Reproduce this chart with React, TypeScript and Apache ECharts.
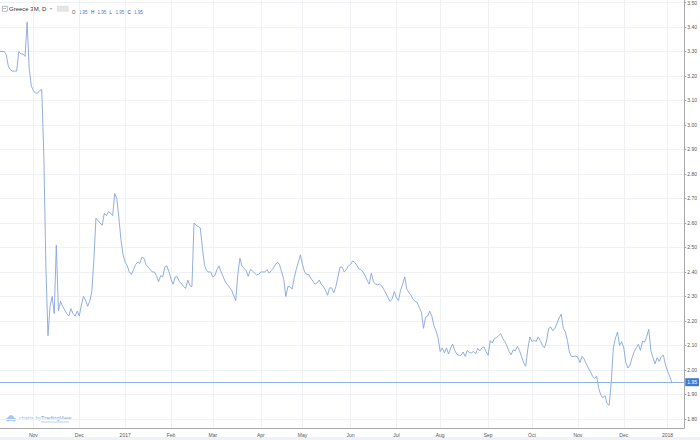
import React, { useEffect, useRef } from "react";
import * as echarts from "echarts";

// Trading days (weekdays) starting 2016-10-10
const START = { y: 2016, m: 9, d: 10 };
const DAY_COUNT = 329;

const monthNames = ["Jan", "Feb", "Mar", "Apr", "May", "Jun", "Jul", "Aug", "Sep", "Oct", "Nov", "Dec"];

// Greece 3M yield, daily closes
const yieldValues = [
  3.30, 3.30, 3.30, 3.286, 3.24, 3.225, 3.22, 3.22, 3.22, 3.30,
  3.29, 3.29, 3.28, 3.42, 3.23, 3.16, 3.14, 3.13, 3.13, 3.14,
  3.145, 2.88, 2.42, 2.14, 2.26, 2.30, 2.23, 2.51, 2.24, 2.28,
  2.26, 2.245, 2.23, 2.22, 2.25, 2.23, 2.22, 2.24, 2.22, 2.265,
  2.30, 2.285, 2.26, 2.28, 2.32, 2.45, 2.62, 2.61, 2.60, 2.59,
  2.64, 2.63, 2.646, 2.64, 2.63, 2.72, 2.70, 2.62, 2.53, 2.47,
  2.44, 2.425, 2.40, 2.39, 2.41, 2.43, 2.44, 2.435, 2.46, 2.456,
  2.43, 2.42, 2.41, 2.40, 2.40, 2.385, 2.36, 2.385, 2.38, 2.42,
  2.425, 2.40, 2.37, 2.35, 2.38, 2.38, 2.36, 2.353, 2.34, 2.333,
  2.367, 2.345, 2.34, 2.60, 2.59, 2.585, 2.58, 2.50, 2.43, 2.405,
  2.40, 2.40, 2.38, 2.385, 2.41, 2.425, 2.40, 2.38, 2.36, 2.348,
  2.338, 2.325, 2.305, 2.283, 2.39, 2.456, 2.425, 2.415, 2.405, 2.382,
  2.41, 2.405, 2.395, 2.388, 2.39, 2.40, 2.40, 2.40, 2.41, 2.395,
  2.405, 2.415, 2.43, 2.44, 2.43, 2.40, 2.37, 2.30, 2.34, 2.34,
  2.33, 2.375, 2.41, 2.44, 2.47, 2.43, 2.40, 2.39, 2.39, 2.374,
  2.362, 2.35, 2.355, 2.367, 2.35, 2.34, 2.325, 2.305, 2.335, 2.335,
  2.315, 2.34, 2.38, 2.42, 2.42, 2.40, 2.41, 2.425, 2.43, 2.445,
  2.44, 2.428, 2.412, 2.41, 2.40, 2.385, 2.365, 2.35, 2.395, 2.36,
  2.35, 2.348, 2.35, 2.343, 2.328, 2.313, 2.295, 2.28, 2.29, 2.32,
  2.295, 2.283, 2.325, 2.35, 2.38, 2.33, 2.316, 2.305, 2.288, 2.28,
  2.275, 2.255, 2.235, 2.17, 2.215, 2.22, 2.24, 2.22, 2.18, 2.16,
  2.13, 2.075, 2.09, 2.07, 2.09, 2.065, 2.089, 2.105, 2.08, 2.063,
  2.06, 2.06, 2.073, 2.055, 2.08, 2.07, 2.07, 2.075, 2.066, 2.088,
  2.078, 2.09, 2.094, 2.075, 2.06, 2.12, 2.11, 2.128, 2.132, 2.14,
  2.148, 2.128, 2.116, 2.098, 2.076, 2.062, 2.082, 2.078, 2.096, 2.079,
  2.055, 2.03, 2.015, 2.085, 2.135, 2.116, 2.12, 2.117, 2.135, 2.12,
  2.10, 2.09, 2.118, 2.17, 2.175, 2.16, 2.17, 2.19, 2.212, 2.228,
  2.17, 2.155, 2.12, 2.07, 2.054, 2.055, 2.056, 2.052, 2.03, 2.055,
  2.045, 2.025, 2.008, 1.993, 1.975, 1.965, 1.975, 1.925, 1.898, 1.886,
  1.895, 1.862, 1.856, 1.95, 2.09, 2.13, 2.155, 2.10, 2.115, 2.09,
  2.03, 2.008, 2.02, 2.05, 2.075, 2.09, 2.105, 2.08, 2.118, 2.113,
  2.136, 2.166, 2.078, 2.05, 2.025, 2.05, 2.035, 2.055, 2.06, 2.02,
  1.995, 1.975, 1.95,
];

const yTickValues = [1.8, 1.9, 2.0, 2.1, 2.2, 2.3, 2.4, 2.5, 2.6, 2.7, 2.8, 2.9, 3.0, 3.1, 3.2, 3.3, 3.4, 3.5];
const LAST_PRICE = 1.95;
const Y_MIN = 1.763;
const Y_MAX = 3.51;

function buildCalendar() {
  const dates: string[] = [];
  const labels: Record<number, string> = {};
  const d = new Date(Date.UTC(START.y, START.m, START.d));
  let prevMonth = -1;
  while (dates.length < DAY_COUNT) {
    const wd = d.getUTCDay();
    if (wd !== 0 && wd !== 6) {
      const m = d.getUTCMonth();
      const idx = dates.length;
      if (prevMonth !== -1 && m !== prevMonth) {
        labels[idx] = m === 0 ? String(d.getUTCFullYear()) : monthNames[m];
      }
      prevMonth = m;
      const s = d.getUTCFullYear() + "-" + String(m + 1).padStart(2, "0") + "-" + String(d.getUTCDate()).padStart(2, "0");
      dates.push(s);
    }
    d.setUTCDate(d.getUTCDate() + 1);
  }
  return { dates, labels };
}

export default function App() {
  const ref = useRef<HTMLDivElement>(null);

  useEffect(() => {
    if (!ref.current) return;
    const chart = echarts.init(ref.current, undefined, { renderer: "svg" });
    const { dates, labels } = buildCalendar();
    const isLabel = (i: number) => labels[i] !== undefined;
    const font = "Arial, 'Liberation Sans', sans-serif";

    chart.setOption({
      animation: false,
      backgroundColor: "#ffffff",
      grid: { left: 0, right: 14, top: 0, bottom: 12, containLabel: false },
      xAxis: {
        type: "category",
        data: dates,
        boundaryGap: false,
        axisLine: { show: true, lineStyle: { color: "#a8a8a8", width: 1 } },
        axisTick: { show: false },
        axisLabel: {
          interval: (i: number) => isLabel(i),
          formatter: (_v: string, i: number) => labels[i] || "",
          fontSize: 5,
          color: "#555",
          margin: 4,
          fontFamily: font,
        },
        splitLine: {
          show: true,
          interval: (i: number) => isLabel(i),
          lineStyle: { color: "#eff1f4", width: 1 },
        },
      },
      yAxis: {
        type: "value",
        position: "right",
        min: Y_MIN,
        max: Y_MAX,
        axisLine: { show: true, lineStyle: { color: "#a8a8a8", width: 1 } },
        axisTick: { show: true, length: 2, customValues: yTickValues, lineStyle: { color: "#a8a8a8" } },
        axisLabel: {
          customValues: yTickValues,
          formatter: (v: number) => v.toFixed(2),
          fontSize: 5,
          color: "#555",
          margin: 3,
          fontFamily: font,
        },
        splitLine: { show: true, lineStyle: { color: "#eff1f4", width: 1 } },
      },
      series: [
        {
          type: "line",
          data: yieldValues,
          showSymbol: false,
          symbol: "none",
          lineStyle: { color: "#86a5dc", width: 0.9 },
          markLine: {
            silent: true,
            symbol: "none",
            lineStyle: { color: "#8db3e8", width: 1, type: "solid" },
            label: {
              show: true,
              position: "end",
              distance: 1,
              formatter: LAST_PRICE.toFixed(2),
              backgroundColor: "#3d7bd8",
              color: "#ffffff",
              fontSize: 5,
              padding: [2, 2, 1, 2],
              fontFamily: font,
            },
            data: [{ yAxis: LAST_PRICE }],
          },
        },
      ],
      graphic: [
        { type: "rect", left: 0, top: 437, shape: { width: 700, height: 3 }, style: { fill: "#eef1f6" } },
        { type: "rect", left: 2, top: 6, shape: { width: 5, height: 5 }, style: { fill: "#fff", stroke: "#888", lineWidth: 0.6 } },
        { type: "line", shape: { x1: 3, y1: 8.5, x2: 6, y2: 8.5 }, style: { stroke: "#888", lineWidth: 0.6 } },
        {
          type: "text",
          left: 9,
          top: 5.5,
          style: { text: "Greece 3M, D", fontSize: 6, fill: "#333", fontFamily: font },
        },
        { type: "text", left: 50, top: 6, style: { text: "▾", fontSize: 4, fill: "#999", fontFamily: font } },
        { type: "rect", left: 57, top: 6, shape: { width: 5, height: 5 }, style: { fill: "#e6e6e6", stroke: "#d0d0d0", lineWidth: 0.5 } },
        { type: "rect", left: 63, top: 6, shape: { width: 5, height: 5 }, style: { fill: "#e6e6e6", stroke: "#d0d0d0", lineWidth: 0.5 } },
        {
          type: "text",
          left: 72,
          top: 6.5,
          style: {
            text: "{k|O} {v|1.95} {k|H} {v|1.95} {k|L} {v|1.95} {k|C} {v|1.95}",
            fontFamily: font,
            rich: {
              k: { fontSize: 4.5, fill: "#444", fontFamily: font },
              v: { fontSize: 4.5, fill: "#3d7bd8", fontFamily: font },
            },
          },
        },
        { type: "circle", shape: { cx: 11, cy: 418, r: 3 }, style: { fill: "#a9c8ea" } },
        { type: "circle", shape: { cx: 8, cy: 419.5, r: 2 }, style: { fill: "#a9c8ea" } },
        { type: "circle", shape: { cx: 14, cy: 419.5, r: 2 }, style: { fill: "#a9c8ea" } },
        {
          type: "text",
          left: 19,
          top: 415,
          style: { text: "charts by", fontSize: 5.5, fill: "#9cc0e6", fontFamily: font },
        },
        {
          type: "text",
          left: 41,
          top: 415,
          style: { text: "TradingView", fontSize: 5.5, fill: "#6ea3dc", fontFamily: font },
        },
        { type: "line", shape: { x1: 41, y1: 422, x2: 69, y2: 422 }, style: { stroke: "#6ea3dc", lineWidth: 0.5 } },
      ],
    });

    return () => chart.dispose();
  }, []);

  return (
    <div
      ref={ref}
      style={{ position: "fixed", left: 0, top: 0, width: 700, height: 440, background: "#fff" }}
    />
  );
}
